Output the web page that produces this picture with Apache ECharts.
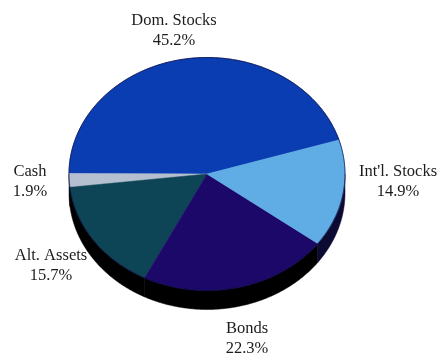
<!DOCTYPE html>
<html>
<head>
<meta charset="utf-8">
<style>html,body{margin:0;padding:0;background:#fff}#chart{width:438px;height:354px}</style>
<script src="https://cdn.jsdelivr.net/npm/echarts@6/dist/echarts.min.js"></script>
</head>
<body>
<div id="chart"></div>
<script>
// Asset allocation, in percent, listed anticlockwise from the Domestic Stocks slice.
const categories = ["Dom. Stocks", "Cash", "Alt. Assets", "Bonds", "Int'l. Stocks"];
const shares = [45.2, 1.9, 15.7, 22.3, 14.9];

const topColors = ['#0a3db2', '#b4bfd0', '#0e4556', '#1b0869', '#60ace4'];
const edgeColors = ['#000000', '#05050a', '#000000', '#000000', '#0c0a32'];
const labelCentres = [[174, 31], [30, 182], [51, 266], [247, 339], [398, 182]];

// Tilted-disc geometry.
const CX = 207, CY = 174, RX = 138, RY = 116.5, DEPTH = 19, START_DEG = 17;
const total = shares.reduce((a, b) => a + b, 0);

const pointAt = (deg, drop) => {
  const t = deg * Math.PI / 180;
  return [CX + RX * Math.cos(t), CY - RY * Math.sin(t) + drop];
};

// Arc samples between two angles, walking in the given direction.
const arc = (from, to, drop) => {
  const n = Math.max(2, Math.ceil(Math.abs(to - from) * 2));
  const pts = [];
  for (let i = 0; i <= n; i++) pts.push(pointAt(from + (to - from) * i / n, drop));
  return pts;
};

let sweepStart = [];
shares.reduce((acc, v, i) => {
  sweepStart[i] = acc;
  return acc + v / total * 360;
}, START_DEG);

function renderSlice(params, api) {
  const i = params.dataIndex;
  const value = api.value(0);
  const a0 = sweepStart[i];
  const a1 = a0 + value / total * 360;
  const children = [];

  // The rim shows only along the near half of the disc (180 to 360 degrees).
  const lo = Math.max(a0, 180), hi = Math.min(a1, 360);
  if (hi > lo) {
    const rim = arc(lo, hi, 0).concat(arc(hi, lo, DEPTH));
    children.push({
      type: 'polygon',
      z2: 1,
      shape: { points: rim },
      style: { fill: edgeColors[i], stroke: edgeColors[i], lineWidth: 0.5 }
    });
  }

  children.push({
    type: 'polygon',
    z2: 2,
    shape: { points: [[CX, CY]].concat(arc(a0, a1, 0)) },
    style: { fill: topColors[i], stroke: topColors[i], lineWidth: 0.5 }
  });

  // Thin dark line along the outer edge of the top face.
  children.push({
    type: 'polyline',
    z2: 3,
    shape: { points: arc(a0, a1, 0) },
    style: { fill: null, stroke: '#0a0a40', lineWidth: 0.8 }
  });

  children.push({
    type: 'text',
    z2: 5,
    style: {
      x: labelCentres[i][0],
      y: labelCentres[i][1],
      text: categories[i] + '\n' + value.toFixed(1) + '%',
      align: 'center',
      verticalAlign: 'middle',
      fontFamily: '"Liberation Serif", serif',
      fontSize: 16.5,
      lineHeight: 20,
      fill: '#1c1c1c'
    }
  });

  return { type: 'group', children };
}

const chart = echarts.init(document.getElementById('chart'), null, { renderer: 'canvas' });
chart.setOption({
  animation: false,
  backgroundColor: '#ffffff',
  series: [{
    type: 'custom',
    coordinateSystem: 'none',
    renderItem: renderSlice,
    data: shares.map((v, i) => ({ name: categories[i], value: [v] }))
  }]
});
</script>
</body>
</html>
